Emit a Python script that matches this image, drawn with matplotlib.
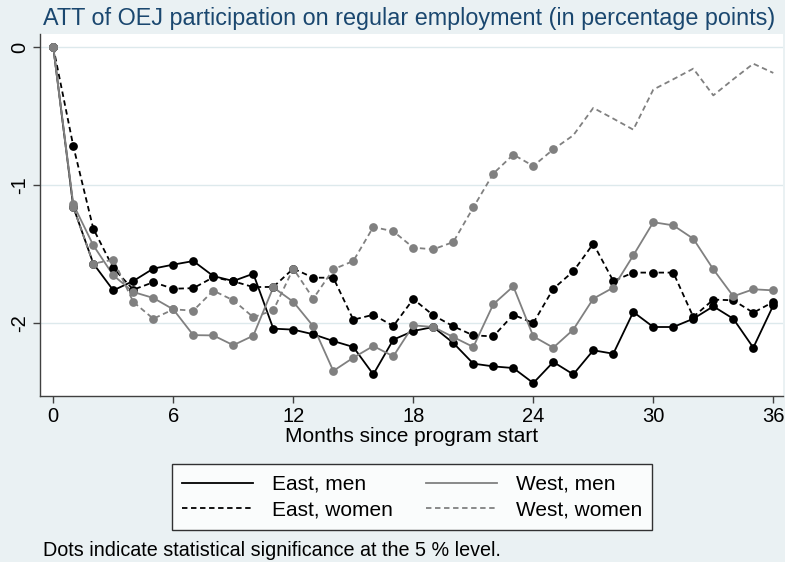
import numpy as np
import matplotlib
matplotlib.use("Agg")
import matplotlib.pyplot as plt
from matplotlib.lines import Line2D

plt.rcParams['font.family'] = ['Liberation Sans', 'DejaVu Sans']

months = np.arange(0, 37)

east_men = [0.0, -1.16, -1.57, -1.765, -1.697, -1.607, -1.578, -1.552, -1.661, -1.697,
            -1.644, -2.043, -2.05, -2.084, -2.133, -2.176, -2.375, -2.123, -2.06, -2.031,
            -2.147, -2.297, -2.317, -2.329, -2.438, -2.285, -2.375, -2.2, -2.225, -1.922,
            -2.031, -2.031, -1.971, -1.881, -1.971, -2.181, -1.874]
east_women = [0.0, -0.717, -1.317, -1.603, -1.76, -1.706, -1.753, -1.749, -1.67, -1.699,
              -1.741, -1.74, -1.607, -1.673, -1.673, -1.978, -1.942, -2.024, -1.828, -1.946,
              -2.026, -2.092, -2.099, -1.942, -2.002, -1.753, -1.627, -1.426, -1.697, -1.636,
              -1.636, -1.636, -1.958, -1.832, -1.837, -1.927, -1.849]
west_men = [0.0, -1.14, -1.438, -1.656, -1.777, -1.82, -1.903, -2.09, -2.092, -2.163,
            -2.094, -1.743, -1.848, -2.026, -2.35, -2.254, -2.169, -2.244, -2.019, -2.031,
            -2.104, -2.176, -1.866, -1.736, -2.099, -2.181, -2.05, -1.825, -1.745, -1.511,
            -1.27, -1.293, -1.39, -1.612, -1.808, -1.757, -1.765]
west_women = [0.0, -1.16, -1.571, -1.542, -1.849, -1.971, -1.903, -1.912, -1.767, -1.837,
              -1.96, -1.91, -1.607, -1.825, -1.612, -1.552, -1.305, -1.336, -1.455, -1.467,
              -1.414, -1.163, -0.917, -0.779, -0.862, -0.741, -0.639, -0.44, -0.518, -0.598,
              -0.307, -0.232, -0.155, -0.349, -0.232, -0.119, -0.186]

# significance at the 5 % level (True = dot drawn)
sig_east_men = [True] * 37
sig_east_women = [True] * 37
sig_west_men = [True] * 37
sig_west_women = [True] * 26 + [False] * 11

labels = ["East, men", "East, women", "West, men", "West, women"]
series = [east_men, east_women, west_men, west_women]
sigs = [sig_east_men, sig_east_women, sig_west_men, sig_west_women]

BLACK = "#000000"
GREY = "#808080"
colors = [BLACK, BLACK, GREY, GREY]
dashes = ["-", (0, (3, 2)), "-", (0, (3, 2))]

bg = "#eaf1f3"
fig = plt.figure(figsize=(7.85, 5.62), dpi=100, facecolor=bg)
ax = fig.add_axes([40 / 785, 1 - 396 / 562, 743 / 785, 362 / 562])
ax.set_facecolor("white")

handles = []
for vals, sig, c, ls, lab in zip(series, sigs, colors, dashes, labels):
    vals = np.asarray(vals)
    sig = np.asarray(sig)
    ax.plot(months, vals, color=c, linestyle=ls, lw=1.3, zorder=3)
    ax.plot(months[sig], vals[sig], linestyle="none", marker="o", ms=6.3,
            color=c, markeredgewidth=0, zorder=4)
    handles.append(Line2D([0], [0], color=c, linestyle=ls, lw=1.3, label=lab))

ax.set_xlim(-0.665, 36.485)
ax.set_ylim(-2.532, 0.0966)
ax.set_xticks(np.arange(0, 37, 6))
ax.set_yticks([0, -1, -2])
ax.set_yticklabels(["0", "-1", "-2"], rotation=90, va="center")
ax.grid(axis="y", color="#dde9ec", lw=1.0, zorder=0)
ax.set_axisbelow(True)

for side in ("top", "right"):
    ax.spines[side].set_visible(False)
for side in ("left", "bottom"):
    ax.spines[side].set_color("#404040")
    ax.spines[side].set_linewidth(1.0)
ax.tick_params(axis="both", length=5, width=1.0, color="#404040",
               labelsize=14.5, labelcolor="black", pad=3)

ax.set_xlabel("Months since program start", fontsize=15, labelpad=1)

fig.text(409 / 785, 1 - 18 / 562, "ATT of OEJ participation on regular employment (in percentage points)",
         ha="center", va="center", fontsize=16.8, color="#1a476f")

leg = fig.legend(handles=handles, ncol=2, loc="center",
                 bbox_to_anchor=(412 / 785, 1 - 497 / 562),
                 fontsize=15, frameon=True, fancybox=False, edgecolor="black",
                 handlelength=3.4, columnspacing=1.6, handletextpad=0.9,
                 borderpad=0.5, labelspacing=0.3)
leg.get_frame().set_linewidth(1.0)
leg.get_frame().set_facecolor("white")

fig.text(43 / 785, 1 - 550 / 562, "Dots indicate statistical significance at the 5 % level.",
         ha="left", va="center", fontsize=14.2)

fig.savefig("out.png", dpi=100, facecolor=bg)
